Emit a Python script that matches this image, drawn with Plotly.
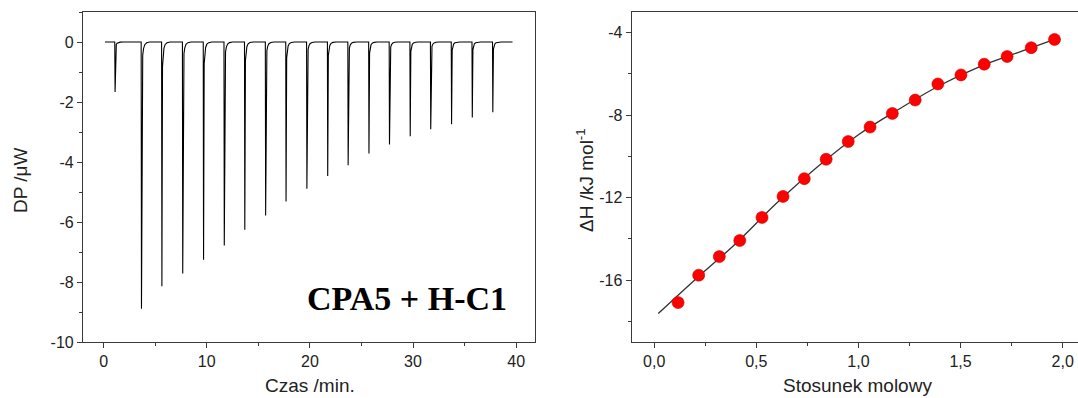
import plotly.graph_objects as go

# ---------------- data ----------------
time_start = 0.13
time_end = 39.65
peak_times = [1.11, 3.67, 5.65, 7.67, 9.69, 11.70, 13.69, 15.71, 17.69, 19.71,
              21.73, 23.71, 25.73, 27.72, 29.73, 31.72, 33.74, 35.75, 37.74]
peak_dp = [-1.67, -8.89, -8.14, -7.72, -7.26, -6.78, -6.26, -5.78, -5.32, -4.89,
           -4.47, -4.11, -3.72, -3.42, -3.14, -2.91, -2.74, -2.52, -2.34]

molar_ratio = [0.117, 0.218, 0.319, 0.419, 0.528, 0.631, 0.735, 0.842, 0.950,
               1.057, 1.166, 1.278, 1.389, 1.502, 1.616, 1.728, 1.846, 1.960]
delta_h = [-17.09, -15.76, -14.86, -14.08, -12.96, -11.94, -11.08, -10.14, -9.28,
           -8.58, -7.92, -7.27, -6.49, -6.05, -5.53, -5.16, -4.73, -4.33]

fit_ratio = [0.02, 0.2, 0.4, 0.6, 0.8, 1.0, 1.2, 1.4, 1.6, 1.8, 1.96]
fit_dh = [-17.62, -15.98, -14.22, -12.26, -10.50, -8.95, -7.70, -6.55, -5.62, -4.90, -4.33]

left_xticks = [0, 10, 20, 30, 40]
left_xlabels = ["0", "10", "20", "30", "40"]
left_yticks = [0, -2, -4, -6, -8, -10]
left_ylabels = ["0", "-2", "-4", "-6", "-8", "-10"]
right_xticks = [0.0, 0.5, 1.0, 1.5, 2.0]
right_xlabels = ["0,0", "0,5", "1,0", "1,5", "2,0"]
right_yticks = [-4, -8, -12, -16]
right_ylabels = ["-4", "-8", "-12", "-16"]

# spike drawing template (shape only): time offset, fraction of peak depth
spike_dt = [-0.03, 0.0, 0.06, 0.12, 0.2, 0.32, 0.5, 0.8]
spike_frac = [0.0, 1.0, 0.10, 0.05, 0.025, 0.01, 0.003, 0.0]

tx, ty = [time_start], [0.0]
for t, d in zip(peak_times, peak_dp):
    for dt, f in zip(spike_dt, spike_frac):
        tx.append(t + dt)
        ty.append(d * f)
tx.append(time_end)
ty.append(0.0)

FONT = "Liberation Sans, Arial, sans-serif"
AX = "#3a3a3a"
W, H = 1078, 398
ML, MR, MT, MB = 0, 0, 12, 56


def px(xp):
    return (xp - ML) / (W - ML - MR)


def py(yp):
    return ((H - MB) - yp) / (H - MT - MB)


fig = go.Figure()
fig.add_trace(go.Scatter(x=tx, y=ty, mode="lines",
                         line=dict(color="#000000", width=1.1),
                         xaxis="x", yaxis="y", showlegend=False))
fig.add_trace(go.Scatter(x=fit_ratio, y=fit_dh, mode="lines",
                         line=dict(color="#333333", width=1.3, shape="spline"),
                         xaxis="x2", yaxis="y2", showlegend=False))
fig.add_trace(go.Scatter(x=molar_ratio, y=delta_h, mode="markers",
                         marker=dict(color="#ff0000", size=12,
                                     line=dict(color="#cc0000", width=0.6)),
                         xaxis="x2", yaxis="y2", showlegend=False))

common = dict(showgrid=False, zeroline=False, showline=True, linecolor=AX,
              linewidth=1.2, ticks="outside", ticklen=5, tickwidth=1.1,
              tickcolor=AX, tickfont=dict(family=FONT, size=16, color="#222"))

fig.update_layout(
    width=W, height=H,
    margin=dict(l=ML, r=MR, t=MT, b=MB),
    paper_bgcolor="white", plot_bgcolor="white",
    xaxis=dict(domain=[0.077, 0.496], range=[-2.0, 41.8], anchor="y",
               tickvals=left_xticks, ticktext=left_xlabels, mirror=True,
               minor=dict(dtick=5, tick0=0, ticks="outside", ticklen=3, tickcolor=AX),
               **common),
    yaxis=dict(domain=[0, 1], range=[-10, 1], anchor="x",
               tickvals=left_yticks, ticktext=left_ylabels, mirror=True,
               minor=dict(dtick=1, tick0=0, ticks="outside", ticklen=3, tickcolor=AX),
               **common),
    xaxis2=dict(domain=[0.586, 1.0], range=[-0.11, 2.075], anchor="y2",
                tickvals=right_xticks, ticktext=right_xlabels, mirror=True,
                minor=dict(dtick=0.25, tick0=0, ticks="outside", ticklen=3, tickcolor=AX),
                **common),
    yaxis2=dict(domain=[0, 1], range=[-19, -3], anchor="x2",
                tickvals=right_yticks, ticktext=right_ylabels, mirror=False,
                minor=dict(dtick=2, tick0=0, ticks="outside", ticklen=3, tickcolor=AX),
                **common),
)

tfont = dict(family=FONT, size=19, color="#222")
fig.add_annotation(text="Czas /min.", xref="paper", yref="paper",
                   x=px(310), y=py(385), xanchor="center", yanchor="middle",
                   showarrow=False, font=tfont)
fig.add_annotation(text="Stosunek molowy", xref="paper", yref="paper",
                   x=px(857), y=py(385), xanchor="center", yanchor="middle",
                   showarrow=False, font=tfont)
fig.add_annotation(text="DP /\u03bcW", xref="paper", yref="paper",
                   x=px(21), y=py(180), xanchor="center", yanchor="middle",
                   textangle=-90, showarrow=False, font=tfont)
fig.add_annotation(text="\u0394H /kJ mol<sup>-1</sup>", xref="paper", yref="paper",
                   x=px(585), y=py(180), xanchor="center", yanchor="middle",
                   textangle=-90, showarrow=False, font=tfont)
fig.add_annotation(text="<b>CPA5 + H-C1</b>", xref="x", yref="y",
                   x=19.5, y=-8.55, xanchor="left", yanchor="middle",
                   showarrow=False,
                   font=dict(family="Liberation Serif, Times New Roman, serif",
                             size=34, color="#000"))

fig.write_html("out.html",
               config={"displayModeBar": False},
               post_script="document.body.style.margin='0px';document.body.style.overflow='hidden';")
